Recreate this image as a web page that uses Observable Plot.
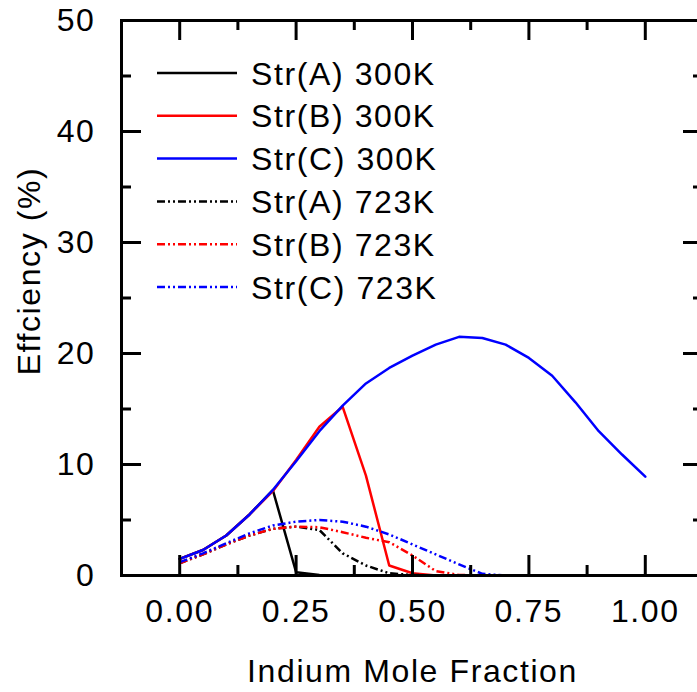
<!DOCTYPE html>
<html>
<head>
<meta charset="utf-8">
<script src="https://cdn.jsdelivr.net/npm/d3@7"></script>
<script src="https://cdn.jsdelivr.net/npm/@observablehq/plot@0.6"></script>
<style>
  html, body { margin: 0; padding: 0; background: #fff; overflow: hidden; }
  #wrap { position: relative; width: 697px; height: 692px; overflow: hidden; }
  #wrap > svg { max-width: none !important; }
  #legend { position: absolute; left: 0; top: 0; }
</style>
</head>
<body>
<div id="wrap"></div>
<script>
// Indium mole fraction
const fraction = [0, 0.05, 0.10, 0.15, 0.20, 0.25, 0.30, 0.35, 0.40, 0.45, 0.50, 0.55, 0.60, 0.65, 0.70, 0.75, 0.80, 0.85, 0.90, 0.95, 1.00];
// Efficiency (%) at 300K
const strA300 = [1.5, 2.3, 3.6, 5.5, 7.7, 0.3, 0.05, 0, 0, 0, 0, 0, 0, 0, 0, 0, 0, 0, 0, 0, 0];
const strB300 = [1.5, 2.3, 3.6, 5.5, 7.6, 10.4, 13.4, 15.2, 9.0, 0.9, 0.2, 0, 0, 0, 0, 0, 0, 0, 0, 0, 0];
const strC300 = [1.5, 2.3, 3.6, 5.5, 7.7, 10.3, 13.0, 15.3, 17.3, 18.7, 19.8, 20.8, 21.5, 21.4, 20.8, 19.6, 18.0, 15.6, 13.0, 10.9, 8.9];
// Efficiency (%) at 723K
const strA723 = [1.1, 1.9, 2.8, 3.6, 4.2, 4.4, 4.1, 2.0, 0.9, 0.2, 0.05, 0, 0, 0, 0, 0, 0, 0, 0, 0, 0];
const strB723 = [1.1, 1.9, 2.8, 3.6, 4.2, 4.4, 4.35, 3.9, 3.4, 3.0, 1.8, 0.4, 0.05, 0, 0, 0, 0, 0, 0, 0, 0];
const strC723 = [1.2, 2.0, 2.9, 3.8, 4.5, 4.85, 5.0, 4.85, 4.4, 3.7, 2.8, 1.9, 1.0, 0.15, 0, 0, 0, 0, 0, 0, 0];

const seriesNames = ["Str(A) 300K", "Str(B) 300K", "Str(C) 300K", "Str(A) 723K", "Str(B) 723K", "Str(C) 723K"];
const seriesValues = [strA300, strB300, strC300, strA723, strB723, strC723];
const seriesColors = ["#000000", "#ff0000", "#0000ff", "#000000", "#ff0000", "#0000ff"];
const seriesDash = [null, null, null, "8,3,2,3,2,3", "8,3,2,3,2,3", "8,3,2,3,2,3"];

const xMajor = [0, 0.25, 0.5, 0.75, 1.0];
const xMinor = [0.125, 0.375, 0.625, 0.875];
const yMajor = [0, 10, 20, 30, 40, 50];
const yMinor = [5, 15, 25, 35, 45];

const xLabel = "Indium Mole Fraction";
const yLabel = "Effciency (%)";

const W = 705, H = 692, mL = 121, mR = 2, mT = 20, mB = 117;
const fw = W - mL - mR, fh = H - mT - mB;
const font = "'Liberation Sans', Arial, sans-serif";
const ls = "1.6px";

const lineMarks = seriesValues.map((vals, i) =>
  Plot.line(fraction.map((f, j) => ({f, v: vals[j]})), {
    x: "f", y: "v", stroke: seriesColors[i], strokeWidth: 2.5,
    strokeDasharray: seriesDash[i] || undefined,
    strokeLinecap: seriesDash[i] ? "butt" : "round",
    strokeLinejoin: "round"
  })
);

const chart = Plot.plot({
  width: W, height: H,
  marginLeft: mL, marginRight: mR, marginTop: mT, marginBottom: mB,
  style: {fontFamily: font, fontSize: "32px", color: "#000", background: "#fff", letterSpacing: ls, overflow: "visible", maxWidth: "none"},
  x: {domain: [-0.125, 1.125]},
  y: {domain: [0, 50]},
  marks: [
    ...lineMarks,
    // inward ticks
    Plot.tickX(xMajor, {x: d => d, insetTop: fh - 20, strokeWidth: 3}),
    Plot.tickX(xMajor, {x: d => d, insetBottom: fh - 20, strokeWidth: 3}),
    Plot.tickX(xMinor, {x: d => d, insetTop: fh - 10, strokeWidth: 3}),
    Plot.tickX(xMinor, {x: d => d, insetBottom: fh - 10, strokeWidth: 3}),
    Plot.tickY(yMajor, {y: d => d, insetRight: fw - 20, strokeWidth: 3}),
    Plot.tickY(yMajor, {y: d => d, insetLeft: fw - 20, strokeWidth: 3}),
    Plot.tickY(yMinor, {y: d => d, insetRight: fw - 10, strokeWidth: 3}),
    Plot.tickY(yMinor, {y: d => d, insetLeft: fw - 10, strokeWidth: 3}),
    Plot.frame({stroke: "#000", strokeWidth: 3}),
    Plot.axisX({ticks: xMajor, tickFormat: d3.format(".2f"), tickSize: 0, tickPadding: 24, label: null, fontSize: 32}),
    Plot.axisY({ticks: yMajor, tickFormat: d => String(d), tickSize: 0, tickPadding: 26, label: null, fontSize: 32}),
    Plot.text([xLabel], {text: d => d, frameAnchor: "bottom", dy: 96, textAnchor: "middle", lineAnchor: "middle", fontSize: 32}),
    Plot.text([yLabel], {text: d => d, frameAnchor: "left", rotate: -90, dx: -92, dy: -27, textAnchor: "middle", lineAnchor: "middle", fontSize: 32})
  ]
});

const wrap = document.getElementById("wrap");
wrap.appendChild(chart);

// legend overlay
const lg = d3.select(wrap).append("svg").attr("id", "legend")
  .attr("width", 697).attr("height", 692);
const row0 = 73, rowStep = 42.8;
seriesNames.forEach((name, i) => {
  const y = row0 + i * rowStep;
  lg.append("line").attr("x1", 157).attr("x2", 237).attr("y1", y).attr("y2", y)
    .attr("stroke", seriesColors[i]).attr("stroke-width", 2.5)
    .attr("stroke-dasharray", seriesDash[i]);
  lg.append("text").attr("x", 251).attr("y", y).attr("dy", "0.36em")
    .attr("font-family", font).attr("font-size", 32).attr("letter-spacing", ls)
    .attr("fill", "#000").text(name);
});
</script>
</body>
</html>
